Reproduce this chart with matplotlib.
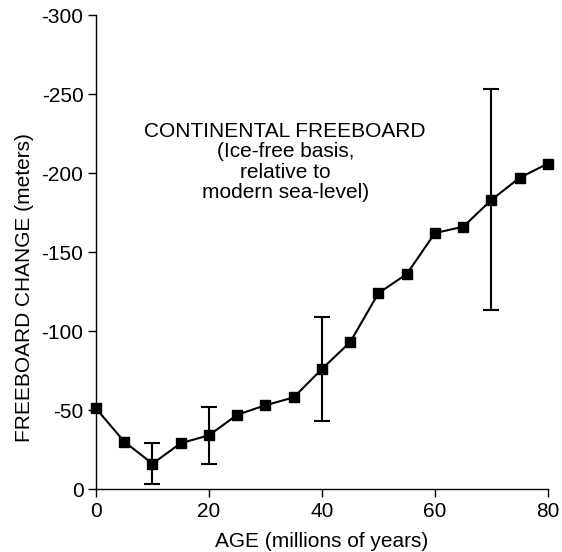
import numpy as np
import matplotlib
matplotlib.use('Agg')
from matplotlib import pyplot as plt

plt.rcParams['font.family'] = ['Liberation Sans', 'DejaVu Sans']
plt.rcParams['axes.unicode_minus'] = False

# data
age = [0, 5, 10, 15, 20, 25, 30, 35, 40, 45, 50, 55, 60, 65, 70, 75, 80]
freeboard = [-51, -30, -16, -29, -34, -47, -53, -58, -76, -93, -124, -136,
             -162, -166, -183, -197, -206]
err_age = [10, 20, 40, 70]
err_val = [-16, -34, -76, -183]
err_size = [13, 18, 33, 70]

xticks = [0, 20, 40, 60, 80]
yticks = [0, -50, -100, -150, -200, -250, -300]

fig = plt.figure(figsize=(5.62, 5.52), dpi=100)
ax = fig.add_axes([0.1708, 0.1141, 0.8042, 0.8587])

ax.plot(age, freeboard, color='black', lw=1.5, marker='s', ms=7.5,
        mfc='black', mec='black', clip_on=False, zorder=3)
ax.errorbar(err_age, err_val, yerr=err_size, fmt='none', ecolor='black',
            elinewidth=1.5, capsize=6, capthick=1.5, zorder=2)

ax.text(33.5, -207, 'CONTINENTAL FREEBOARD\n(Ice-free basis,\nrelative to\nmodern sea-level)',
        ha='center', va='center', multialignment='center', fontsize=15,
        linespacing=1.08)

ax.set_xlim(0, 80)
ax.set_ylim(0, -300)
ax.set_xticks(xticks)
ax.set_yticks(yticks)
ax.set_xticklabels([str(v) for v in xticks])
ax.set_yticklabels([str(v) for v in yticks])
ax.tick_params(direction='out', length=6, width=1, labelsize=15, pad=3)

for s in ['top', 'right']:
    ax.spines[s].set_visible(False)
for s in ['left', 'bottom']:
    ax.spines[s].set_linewidth(1)

ax.set_xlabel('AGE (millions of years)', fontsize=15, labelpad=8)
ax.set_ylabel('FREEBOARD CHANGE (meters)', fontsize=15, va='center')
ax.yaxis.set_label_coords(-0.159, 0.425)

fig.savefig('out.png', dpi=100)
